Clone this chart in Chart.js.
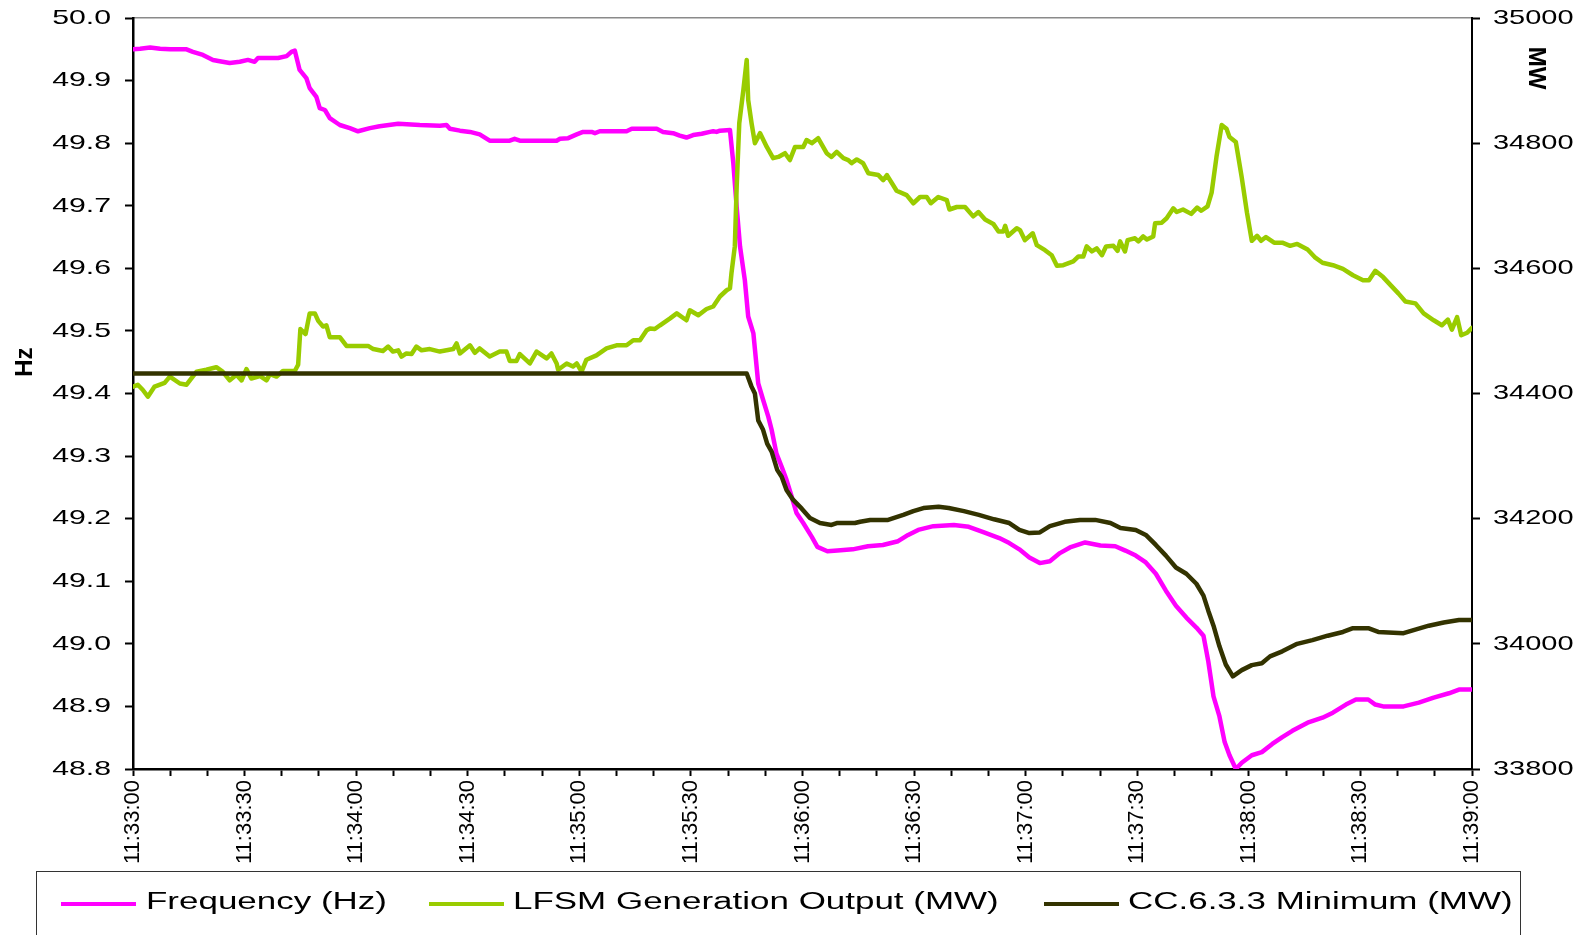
<!DOCTYPE html>
<html>
<head>
<meta charset="utf-8">
<script src="https://cdn.jsdelivr.net/npm/chart.js@4/dist/chart.umd.min.js"></script>
<style>
  html, body { margin: 0; padding: 0; background: #fff; overflow: hidden; }
  #wrap { position: relative; width: 1582px; height: 935px; }
  canvas { position: absolute; left: 0; top: 0; }
  #legendBox { position: absolute; left: 36px; top: 871px; width: 1485px; height: 120px;
    border: 1.5px solid #333; box-sizing: border-box; }
  .swatch { position: absolute; height: 4px; width: 75px; }
  .ltext { position: absolute; font-family: "Liberation Sans", Arial, sans-serif; font-size: 23px;
    line-height: 26px; color: #000; white-space: nowrap; transform: scaleX(1.52); transform-origin: 0 50%; }
</style>
</head>
<body>
<div id="wrap">
  <canvas id="c" width="1582" height="935"></canvas>
  <div id="legendBox"></div>
</div>
<script>
// ---------------- data ----------------
const seriesNames = ['Frequency (Hz)', 'LFSM Generation Output (MW)', 'CC.6.3.3 Minimum (MW)'];
const seriesColors = ['#FF00FF', '#99CC00', '#333300'];
const axisTitles = ['Hz', 'MW'];

// seconds after 11:33:00
const freqSeconds = [0,1.9,4.6,7.3,10,14.4,16.1,18.8,21.5,23.3,
  26,28.7,30.9,32.7,33.6,35.9,39,41.3,42.6,43.5,
  44.8,46.6,47.5,49.3,50.2,51.6,52.9,55.6,58.3,60.5,
  63.7,66.3,71.3,77.1,82.5,84.3,85.2,87.9,90.6,93.2,
  95.9,101.3,102.6,104,113.9,114.8,117,119.3,121,123.3,
  124.2,125.5,132.7,134.1,140.8,142.5,145.2,147,148.8,150.6,
  152.9,155.1,156,156.9,157.8,160.5,161.4,162.3,163.2,164.5,
  165.4,166.8,168.1,169.4,170.8,171.7,173,174.4,175.7,177.1,
  178.4,180.2,182.5,184,186.7,189.4,193.5,197.6,201.6,205.7,
  208.4,211.1,215.2,220.7,224.7,228.8,232.9,235.6,238.3,241,
  243.8,246.5,249.2,251.9,256,260.1,264.1,266.8,269.6,272.3,
  275,277.7,280.4,283.2,285.9,287.8,289.1,290.5,292.1,293.5,
  294.8,296.5,298.1,300.8,303.5,306.3,309,311.7,315.8,319.8,
  322.6,326.1,328.8,332.1,334,336.1,341.6,345.7,349.7,353.8,
  356.5,360];
const freqHz = [49.950,49.951,49.953,49.951,49.950,49.950,49.946,49.941,49.933,49.931,
  49.928,49.930,49.933,49.930,49.936,49.936,49.936,49.939,49.946,49.948,
  49.917,49.904,49.888,49.874,49.856,49.853,49.840,49.829,49.824,49.819,
  49.824,49.827,49.831,49.829,49.828,49.829,49.823,49.820,49.818,49.814,
  49.804,49.804,49.807,49.804,49.804,49.807,49.808,49.814,49.818,49.818,
  49.816,49.819,49.819,49.823,49.823,49.818,49.816,49.812,49.809,49.813,
  49.815,49.818,49.819,49.818,49.820,49.821,49.768,49.698,49.635,49.581,
  49.523,49.496,49.416,49.390,49.363,49.342,49.304,49.283,49.262,49.235,
  49.209,49.193,49.171,49.155,49.148,49.149,49.151,49.156,49.158,49.164,
  49.174,49.182,49.188,49.190,49.187,49.178,49.169,49.161,49.151,49.138,
  49.129,49.132,49.145,49.154,49.162,49.157,49.156,49.149,49.141,49.130,
  49.112,49.085,49.061,49.042,49.026,49.013,48.972,48.916,48.884,48.843,
  48.822,48.800,48.810,48.822,48.827,48.840,48.851,48.861,48.874,48.882,
  48.890,48.903,48.911,48.911,48.903,48.900,48.900,48.906,48.914,48.921,
  48.927,48.927];

const lfsmSeconds = [0,1.3,2.6,4.0,5.8,8.5,9.9,12.6,14.4,17.1,
  19.7,22.4,24.1,26.0,27.8,29.2,30.5,31.8,34.1,35.9,
  36.8,38.6,40.3,43.5,44.4,45.0,46.4,47.5,48.9,49.8,
  51.1,52.0,52.9,55.6,57.4,63.2,64.6,67.2,68.6,69.9,
  71.3,72.2,73.5,74.9,76.2,77.6,79.8,82.5,86.1,87.0,
  87.9,90.6,91.9,93.2,95.9,98.6,100.4,101.3,103.1,104.0,
  106.7,108.5,111.2,112.5,113.9,114.3,116.6,118.3,119.3,120.6,
  121.9,124.6,127.3,130.0,132.7,134.5,136.3,138.1,139.0,140.3,
  141.7,144.4,146.2,148.8,149.7,152.0,154.2,156.0,157.8,159.6,
  160.5,160.9,161.8,162.3,163.0,164.1,165.0,165.4,166.3,167.2,
  168.6,170.4,172.1,173.5,175.3,176.6,178.0,180.2,181.1,182.5,
  184.2,186.5,187.8,189.2,191.0,192.3,193.2,194.6,196.3,197.7,
  200.4,201.7,202.7,205.3,208.0,209.8,211.6,213.4,214.5,216.5,
  218.8,219.5,221.5,223.7,225.9,227.3,229.1,231.3,232.7,234.0,
  234.5,235.3,237.6,238.5,239.8,241.9,243.0,245.2,247.0,248.4,
  250.1,252.8,254.2,255.5,256.4,257.8,259.1,260.5,261.6,263.6,
  264.7,265.4,266.7,267.4,269.4,270.3,271.6,272.6,274.3,274.8,
  276.6,277.9,279.7,280.6,282.3,284.5,286.1,287.2,288.9,290,
  291.3,292.7,294,294.8,296.5,298.1,299.5,300.8,302.2,303.3,
  304.6,306.8,309,311.1,313,315.8,317.7,319.8,322.6,325.3,
  328,330.7,332.3,334,336.1,338.3,340.2,342.1,344.8,347,
  349.7,351.9,353.5,354.6,356,357.1,358.7,360];
const lfsmMW = [34411,34414,34406,34395,34411,34417,34427,34416,34414,34435,
  34438,34442,34435,34421,34430,34421,34439,34424,34428,34421,
  34431,34427,34436,34436,34446,34503,34495,34528,34528,34516,
  34507,34509,34490,34490,34476,34476,34471,34468,34475,34467,
  34469,34459,34464,34463,34475,34469,34471,34467,34471,34480,
  34464,34477,34465,34472,34459,34467,34467,34452,34452,34463,
  34448,34467,34456,34464,34448,34438,34448,34443,34448,34435,
  34454,34461,34472,34477,34477,34485,34485,34501,34504,34503,
  34509,34520,34528,34517,34533,34525,34535,34539,34555,34565,
  34568,34592,34635,34730,34832,34885,34933,34869,34832,34800,
  34816,34794,34776,34778,34784,34773,34794,34794,34805,34800,
  34808,34784,34778,34786,34776,34773,34768,34774,34768,34752,
  34749,34741,34749,34724,34717,34704,34714,34714,34704,34714,
  34709,34694,34698,34698,34683,34690,34678,34671,34659,34659,
  34668,34652,34664,34661,34645,34656,34637,34629,34621,34604,
  34605,34611,34619,34619,34635,34627,34632,34621,34635,34636,
  34628,34643,34627,34645,34648,34643,34651,34646,34651,34672,
  34673,34680,34696,34690,34694,34687,34697,34692,34699,34721,
  34778,34829,34823,34810,34802,34745,34689,34644,34652,34644,
  34650,34641,34641,34636,34639,34630,34618,34609,34605,34599,
  34589,34581,34581,34596,34586,34572,34560,34547,34544,34528,
  34517,34509,34518,34502,34522,34493,34497,34505];

const ccSeconds = [0,165,166.3,167.2,168.1,169.4,170.5,171.7,173.2,174.4,
  175.7,177.5,179.8,182,184.7,187.8,189.2,194.1,195.5,198.2,
  203,207.1,209.8,212.5,216.6,219.3,223.4,227.4,231.5,235.6,
  238.3,241,243.8,246.5,250.5,254.6,258.7,262.8,265.5,269.6,
  272.3,275,277.7,280.4,283.2,285.9,287.8,289.1,290.5,292.1,
  293.8,295.7,298.1,300.8,303.5,305.7,309,313,317.1,321.2,
  325.3,328,332.1,334.8,341.6,344.3,348.4,352.4,356.5,360];
const ccMW = [34432,34432,34411,34400,34357,34342,34320,34307,34278,34267,
  34246,34230,34216,34201,34193,34190,34193,34193,34195,34198,
  34198,34206,34212,34217,34219,34217,34212,34206,34199,34193,
  34182,34177,34178,34188,34195,34198,34198,34193,34185,34182,
  34174,34158,34141,34122,34112,34096,34077,34053,34029,33996,
  33967,33948,33958,33966,33969,33980,33988,34000,34006,34013,
  34019,34025,34025,34019,34017,34022,34029,34034,34038,34038];

// axes / ticks
const xTickSeconds = [0,10,20,30,40,50,60,70,80,90,100,110,120,130,140,150,160,170,180,
  190,200,210,220,230,240,250,260,270,280,290,300,310,320,330,340,350,360];
const majorSeconds = [0,30,60,90,120,150,180,210,240,270,300,330,360];
const timeLabels = ['11:33:00','11:33:30','11:34:00','11:34:30','11:35:00','11:35:30','11:36:00',
  '11:36:30','11:37:00','11:37:30','11:38:00','11:38:30','11:39:00'];
const hzTicks = [48.8,48.9,49.0,49.1,49.2,49.3,49.4,49.5,49.6,49.7,49.8,49.9,50.0];
const hzTickLabels = ['48.8','48.9','49.0','49.1','49.2','49.3','49.4','49.5','49.6','49.7','49.8','49.9','50.0'];
const mwTicks = [33800,34000,34200,34400,34600,34800,35000];
const mwTickLabels = ['33800','34000','34200','34400','34600','34800','35000'];

// ---------------- chart ----------------
const FONT = '"Liberation Sans", Arial, sans-serif';
const toPts = (xs, ys) => xs.map((t, i) => ({ x: t, y: ys[i] }));

// Draws y-axis tick labels (wide, as in the reference) and the axis titles, positioned from the scales
const axisText = {
  id: 'axisText',
  afterDraw(chart) {
    const ctx = chart.ctx;
    const sy = chart.scales.y, sr = chart.scales.y1;
    ctx.save();
    ctx.fillStyle = '#000';
    ctx.font = '21px ' + FONT;
    ctx.textBaseline = 'middle';
    hzTicks.forEach((v, i) => {
      const py = sy.getPixelForValue(v);
      ctx.save(); ctx.translate(sy.right - 22, py); ctx.scale(1.44, 1);
      ctx.textAlign = 'right'; ctx.fillText(hzTickLabels[i], 0, 0); ctx.restore();
    });
    mwTicks.forEach((v, i) => {
      const py = sr.getPixelForValue(v);
      ctx.save(); ctx.translate(sr.left + 21, py); ctx.scale(1.38, 1);
      ctx.textAlign = 'left'; ctx.fillText(mwTickLabels[i], 0, 0); ctx.restore();
    });
    // axis titles
    ctx.font = 'bold 24px ' + FONT;
    ctx.textAlign = 'center';
    ctx.save(); ctx.translate(sy.left + 25, sy.getPixelForValue(49.45)); ctx.rotate(-Math.PI / 2);
    ctx.fillText(axisTitles[0], 0, 0); ctx.restore();
    ctx.save(); ctx.translate(sr.right - 46, sr.getPixelForValue(34920)); ctx.rotate(Math.PI / 2);
    ctx.fillText(axisTitles[1], 0, 0); ctx.restore();
    ctx.restore();
  }
};

new Chart(document.getElementById('c'), {
  type: 'line',
  data: {
    datasets: [
      { label: seriesNames[0], data: toPts(freqSeconds, freqHz), yAxisID: 'y', borderColor: seriesColors[0], order: 3 },
      { label: seriesNames[1], data: toPts(lfsmSeconds, lfsmMW), yAxisID: 'y1', borderColor: seriesColors[1], order: 2 },
      { label: seriesNames[2], data: toPts(ccSeconds, ccMW), yAxisID: 'y1', borderColor: seriesColors[2], order: 1 }
    ]
  },
  plugins: [axisText],
  options: {
    responsive: false,
    animation: false,
    devicePixelRatio: 1,
    layout: { padding: 0 },
    elements: {
      point: { radius: 0, hoverRadius: 0 },
      line: { borderWidth: 4.5, tension: 0, fill: false, borderJoinStyle: 'round', borderCapStyle: 'round' }
    },
    plugins: { legend: { display: false }, tooltip: { enabled: false } },
    scales: {
      x: {
        type: 'linear', position: 'bottom', min: 0, max: 360,
        afterBuildTicks: s => { s.ticks = xTickSeconds.map(v => ({ value: v })); },
        afterFit: s => { s.height = 166; },
        ticks: {
          autoSkip: false, minRotation: 90, maxRotation: 90, padding: 4, color: '#000',
          font: { family: FONT, size: 22 },
          callback: v => { const k = majorSeconds.indexOf(v); return k >= 0 ? timeLabels[k] : ''; }
        },
        grid: { drawOnChartArea: false, drawTicks: true, tickLength: 7, tickColor: '#000', tickWidth: 2 },
        border: { display: true, color: '#000', width: 2.5 }
      },
      xTop: {
        type: 'linear', position: 'top', min: 0, max: 360,
        afterFit: s => { s.height = 18; },
        ticks: { display: false },
        grid: { display: false, drawTicks: false },
        border: { display: true, color: '#8a8a8a', width: 1.5 }
      },
      y: {
        type: 'linear', position: 'left', min: 48.8, max: 50.0,
        afterBuildTicks: s => { s.ticks = hzTicks.map(v => ({ value: v })); },
        afterFit: s => { s.width = 133; },
        ticks: { display: false },
        grid: { drawOnChartArea: false, drawTicks: true, tickLength: 8, tickColor: '#000', tickWidth: 2 },
        border: { display: true, color: '#000', width: 2.5 }
      },
      y1: {
        type: 'linear', position: 'right', min: 33800, max: 35000,
        afterBuildTicks: s => { s.ticks = mwTicks.map(v => ({ value: v })); },
        afterFit: s => { s.width = 110; },
        ticks: { display: false },
        grid: { drawOnChartArea: false, drawTicks: true, tickLength: 8, tickColor: '#000', tickWidth: 2 },
        border: { display: true, color: '#000', width: 2 }
      }
    }
  }
});

// ---------------- legend (HTML, built from the series arrays) ----------------
const legendPos = [ [61, 146], [429, 513], [1044, 1128] ];
const wrap = document.getElementById('wrap');
seriesNames.forEach((name, i) => {
  const sw = document.createElement('div');
  sw.className = 'swatch';
  sw.style.left = legendPos[i][0] + 'px';
  sw.style.top = '902px';
  sw.style.background = seriesColors[i];
  wrap.appendChild(sw);
  const tx = document.createElement('div');
  tx.className = 'ltext';
  tx.style.left = legendPos[i][1] + 'px';
  tx.style.top = '888px';
  tx.textContent = name;
  wrap.appendChild(tx);
});
</script>
</body>
</html>
